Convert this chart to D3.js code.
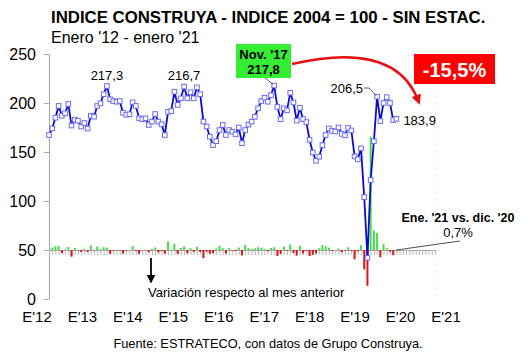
<!DOCTYPE html>
<html><head><meta charset="utf-8">
<script src="https://cdn.jsdelivr.net/npm/d3@7"></script>
<style>body{margin:0;background:#fff} text{font-family:Arial,"Liberation Sans",sans-serif;fill:#000}</style>
</head><body><svg id="c" width="530" height="354"></svg>
<script>
// ---- data ----
const yearLabels = ["E'12","E'13","E'14","E'15","E'16","E'17","E'18","E'19","E'20","E'21"];
const yTicks = [0, 50, 100, 150, 200, 250];
// Índice Construya (2004=100), monthly, Jan 2012 - Jan 2021
const idx2012 = [167.3, 174, 185, 197, 187, 189.5, 199, 177, 183, 182, 176, 179.5];
const idx2013 = [174, 187, 186, 197, 199.7, 209, 217.3, 203.8, 202, 201.3, 202, 190];
const idx2014 = [188, 188.5, 200.7, 197, 184.4, 183.4, 184.4, 177.6, 181, 188.8, 181, 178.3];
const idx2015 = [167.3, 191, 191.8, 211.5, 198, 204.8, 216.7, 204.8, 211, 204.8, 216, 209];
const idx2016 = [181, 176, 165.6, 157, 161, 172.4, 177.6, 167.3, 172.4, 170.7, 168, 175];
const idx2017 = [159, 172.4, 178, 181, 186, 194.6, 202, 205.4, 201.3, 208, 217.8, 196];
const idx2018 = [183.5, 194.6, 192.5, 210.5, 200.5, 182, 195, 183.5, 180.5, 162.5, 149.5, 141];
const idx2019 = [145.2, 157, 167.3, 174, 171.5, 171, 175, 168.5, 167, 174.5, 172, 145.5];
const idx2020 = [142.5, 153.8, 104, 42, 121.4, 161, 206.5, 181.6, 200, 206, 200, 182.6];
const idx2021 = [183.9];
// Variación respecto al mes anterior (%)
const chg2012 = [null, 4.0, 6.3, 6.5, -5.1, 1.3, 5.0, -11.1, 3.4, -0.5, -3.3, 2.0];
const chg2013 = [-3.1, 7.5, -0.5, 5.9, 1.4, 4.7, 4.0, -6.2, -0.9, -0.3, 0.3, -5.9];
const chg2014 = [-1.1, 0.3, 6.5, -1.8, -6.4, -0.5, 0.5, -3.7, 1.9, 4.3, -4.1, -1.5];
const chg2015 = [-6.2, 14.2, 0.4, 10.3, -6.4, 3.4, 5.8, -5.5, 3.0, -2.9, 5.5, -3.2];
const chg2016 = [-13.4, -2.8, -5.9, -5.2, 2.5, 7.1, 3.0, -5.8, 3.0, -1.0, -1.6, 4.2];
const chg2017 = [-9.1, 8.4, 3.2, 1.7, 2.8, 4.6, 3.8, 1.7, -2.0, 3.3, 4.7, -10.0];
const chg2018 = [-6.4, 6.0, -1.1, 9.4, -4.8, -9.2, 7.1, -5.9, -1.6, -10.0, -8.0, -5.7];
const chg2019 = [3.0, 8.1, 6.6, 4.0, -1.4, -0.3, 2.3, -3.7, -0.9, 4.5, -1.4, -15.4];
const chg2020 = [-2.1, 7.9, -32.4, -59.6, 189.0, 32.6, 28.3, -12.1, 10.1, 3.0, -2.9, -8.7];
const chg2021 = [0.7];

const indexValues = [].concat(idx2012, idx2013, idx2014, idx2015, idx2016, idx2017, idx2018, idx2019, idx2020, idx2021);
const changeValues = [].concat(chg2012, chg2013, chg2014, chg2015, chg2016, chg2017, chg2018, chg2019, chg2020, chg2021);
const series = indexValues.map((v, i) => ({ i, v }));
const bars = changeValues.map((c, i) => ({ i, c })).filter(d => d.c !== null);

// ---- scales ----
const svg = d3.select("#c");
const x = d3.scaleLinear().domain([0, 120]).range([49, 435]);
const y = d3.scaleLinear().domain([0, 250]).range([299, 54]);
const yBar = d3.scaleLinear().domain([0, 100]).range([y(50), y(50) - 60]);
const xLab = d3.scalePoint().domain(yearLabels).range([37, 446]);

// title
svg.append("text").attr("x", 51).attr("y", 23).attr("font-size", 16.8).attr("font-weight", "bold")
  .text("INDICE CONSTRUYA - INDICE 2004 = 100 - SIN ESTAC.");
svg.append("text").attr("x", 51).attr("y", 43).attr("font-size", 16)
  .text("Enero '12 - enero '21");

// right dotted border
svg.append("line").attr("x1", x(120)).attr("x2", x(120)).attr("y1", y(250)).attr("y2", y(0))
  .attr("stroke", "#d8d8d8").attr("stroke-dasharray", "1,5");

// y axis
const gy = svg.append("g").attr("transform", `translate(${x(0)},0)`)
  .call(d3.axisLeft(y).tickValues(yTicks).tickSize(5).tickSizeOuter(0).tickPadding(8));
gy.select(".domain").attr("stroke", "#a8a8a8");
gy.selectAll(".tick line").attr("stroke", "#a8a8a8");
gy.selectAll(".tick text").attr("font-size", 16).attr("font-family", "Arial, 'Liberation Sans', sans-serif").attr("fill", "#000");

// x labels
svg.append("g").selectAll("text").data(yearLabels).join("text")
  .attr("x", d => xLab(d)).attr("y", 322).attr("text-anchor", "middle").attr("font-size", 15).text(d => d);

// bar baseline axis with monthly ticks
const gb = svg.append("g").attr("transform", `translate(0,${y(50)})`)
  .call(d3.axisBottom(x).tickValues(d3.range(0, 121)).tickSize(5).tickSizeOuter(0).tickFormat(""));
gb.select(".domain").attr("stroke", "#a0a0a0");
gb.selectAll(".tick line").attr("stroke", "#b8b8b8");

// bars
svg.append("g").selectAll("rect").data(bars).join("rect")
  .attr("x", d => x(d.i) - 1).attr("width", 2)
  .attr("y", d => Math.min(yBar(d.c), yBar(0)))
  .attr("height", d => Math.abs(yBar(d.c) - yBar(0)))
  .attr("fill", d => d.c >= 0 ? "#44dd44" : "#dd1515");

// line
svg.append("path").datum(series)
  .attr("d", d3.line().x(d => x(d.i)).y(d => y(d.v)))
  .attr("fill", "none").attr("stroke", "#0a0ad0").attr("stroke-width", 1.8);
svg.append("g").selectAll("rect").data(series).join("rect")
  .attr("x", d => x(d.i) - 2.3).attr("y", d => y(d.v) - 2.3).attr("width", 4.6).attr("height", 4.6)
  .attr("fill", "#fff").attr("stroke", "#6a6af0").attr("stroke-width", 1);

// annotations
const ann = svg.append("g");
ann.append("text").attr("x", x(18)).attr("y", 80).attr("text-anchor", "middle").attr("font-size", 13).text("217,3");
ann.append("text").attr("x", x(42)).attr("y", 80).attr("text-anchor", "middle").attr("font-size", 13).text("216,7");

// Nov '17 box
const pk = series[70];
ann.append("line").attr("x1", 264).attr("y1", 77).attr("x2", x(pk.i) - 1).attr("y2", y(pk.v) - 1)
  .attr("stroke", "#333").attr("stroke-width", 0.8);
ann.append("rect").attr("x", 236).attr("y", 44).attr("width", 55).attr("height", 34).attr("fill", "#33ee33");
ann.append("text").attr("x", 263.5).attr("y", 59).attr("text-anchor", "middle").attr("font-size", 13).attr("font-weight", "bold").text("Nov. '17");
ann.append("text").attr("x", 263.5).attr("y", 74).attr("text-anchor", "middle").attr("font-size", 13).attr("font-weight", "bold").text("217,8");

// red arrow
const defs = svg.append("defs");
defs.append("marker").attr("id", "ah").attr("viewBox", "0 0 10 10").attr("refX", 5).attr("refY", 5)
  .attr("markerWidth", 4).attr("markerHeight", 4).attr("orient", "auto")
  .append("path").attr("d", "M0,0L10,5L0,10z").attr("fill", "#e81010");
ann.append("path").attr("d", "M292,64 Q395,40 418,100").attr("fill", "none")
  .attr("stroke", "#e81010").attr("stroke-width", 2.5).attr("marker-end", "url(#ah)");

ann.append("rect").attr("x", 414).attr("y", 54).attr("width", 81).attr("height", 30).attr("fill", "#ff0000");
ann.append("text").attr("x", 454.5).attr("y", 77).attr("text-anchor", "middle").attr("font-size", 20)
  .attr("font-weight", "bold").style("fill", "#fff").text("-15,5%");

// 206,5
const p206 = series[102];
ann.append("text").attr("x", 363).attr("y", 93).attr("text-anchor", "end").attr("font-size", 13).text("206,5");
ann.append("path").attr("d", `M364,88 L369,88 L${x(p206.i) - 1},${y(p206.v) - 1}`).attr("fill", "none")
  .attr("stroke", "#333").attr("stroke-width", 0.8);
// 183,9
const pl = series[108];
ann.append("text").attr("x", x(pl.i) + 7).attr("y", 125).attr("font-size", 13).text("183,9");

// Ene '21 vs dic '20
ann.append("text").attr("x", 458).attr("y", 222).attr("text-anchor", "middle").attr("font-size", 12.5)
  .attr("font-weight", "bold").text("Ene. '21 vs. dic. '20");
ann.append("text").attr("x", 458).attr("y", 237).attr("text-anchor", "middle").attr("font-size", 13).text("0,7%");
ann.append("line").attr("x1", x(108)).attr("y1", y(50)).attr("x2", 460).attr("y2", 241)
  .attr("stroke", "#222").attr("stroke-width", 0.8);

// Variación arrow
defs.append("marker").attr("id", "ab").attr("viewBox", "0 0 10 10").attr("refX", 5).attr("refY", 5)
  .attr("markerWidth", 5).attr("markerHeight", 5).attr("orient", "auto")
  .append("path").attr("d", "M0,0L10,5L0,10z").attr("fill", "#000");
ann.append("line").attr("x1", 151).attr("y1", 258).attr("x2", 151).attr("y2", 279)
  .attr("stroke", "#000").attr("stroke-width", 1.8).attr("marker-end", "url(#ab)");
ann.append("text").attr("x", 148).attr("y", 297).attr("font-size", 13).text("Variación respecto al mes anterior");

// footer
svg.append("text").attr("x", 268).attr("y", 348).attr("text-anchor", "middle").attr("font-size", 12.8)
  .text("Fuente: ESTRATECO, con datos de Grupo Construya.");
</script></body></html>
